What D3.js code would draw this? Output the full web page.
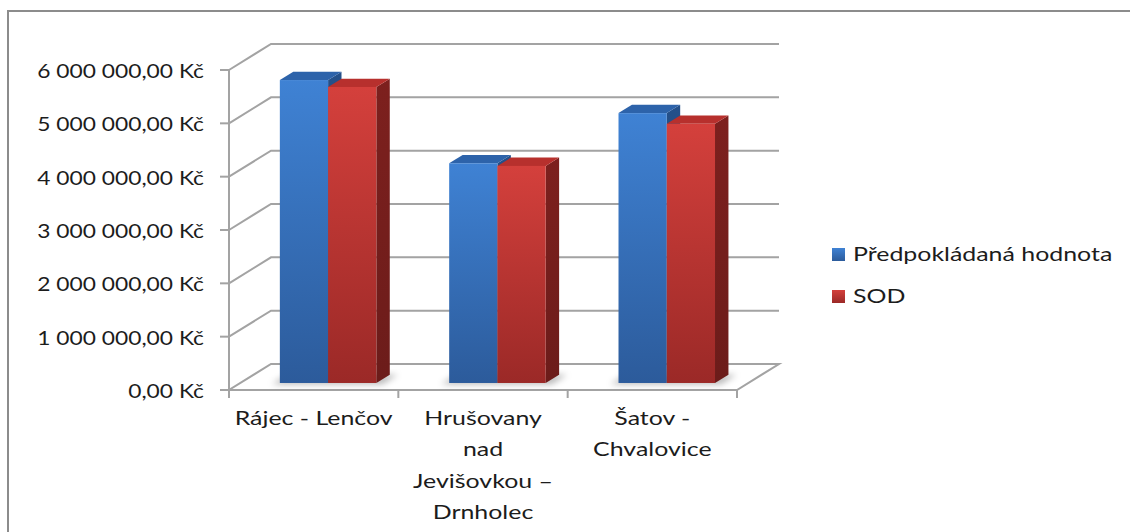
<!DOCTYPE html>
<html>
<head>
<meta charset="utf-8">
<script src="https://cdn.jsdelivr.net/npm/d3@7"></script>
<style>
  body { margin: 0; background: #fff; }
  svg { display: block; }
  text { font-family: Lato, "Liberation Sans", sans-serif; fill: #1c1c1c; }
</style>
</head>
<body>
<svg id="chart" width="1130" height="532"></svg>
<script>
// data
var categories = [["Rájec - Lenčov"], ["Hrušovany", "nad", "Jevišovkou –", "Drnholec"], ["Šatov -", "Chvalovice"]];
var seriesNames = ["Předpokládaná hodnota", "SOD"];
var predpokladana = [5680000, 4120000, 5060000];
var sod = [5550000, 4070000, 4860000];
var yTicks = [0, 1000000, 2000000, 3000000, 4000000, 5000000, 6000000];

var values = [predpokladana, sod];

// layout
var x0 = 229, x1 = 737, yBottom = 390, yTop = 70;
var DX = 42, DY = -26;        // wall depth projection
var t0 = 0.27, t1 = 0.59;     // bar depth in the box
var SX = 1.14;                // horizontal stretch, numbers
var SXT = 1.245;              // horizontal stretch, words
var fontSize = 20;

var czk = d3.formatLocale({ decimal: ",", thousands: " ", grouping: [3], currency: ["", " Kč"] });
var fmt = czk.format("$,.2f");

var svg = d3.select("#chart");
var defs = svg.append("defs");

var y = d3.scaleLinear().domain([0, 6000000]).range([yBottom, yTop]);
var x = d3.scaleBand().domain(d3.range(categories.length)).range([x0, x1]);
var xs = d3.scaleBand().domain(seriesNames).range([39.5, 136]);

function P(px, v, t) { return [px + DX * t, y(v) + DY * t]; }
function pts(arr) { return arr.map(function (p) { return p.join(","); }).join(" "); }

// colours
var pal = [
  { top: "#2d63aa", side: "#24508a", f1: "#3f82d4", f2: "#2c5b9b" },
  { top: "#b7302d", side: "#7d201e", f1: "#d4403c", f2: "#9b2927" }
];
pal.forEach(function (c, i) {
  var g = defs.append("linearGradient").attr("id", "front" + i)
    .attr("x1", 0).attr("y1", 0).attr("x2", 0).attr("y2", 1);
  g.append("stop").attr("offset", "0%").attr("stop-color", c.f1);
  g.append("stop").attr("offset", "100%").attr("stop-color", c.f2);
  var s = defs.append("linearGradient").attr("id", "side" + i)
    .attr("x1", 0).attr("y1", 0).attr("x2", 0).attr("y2", 1);
  s.append("stop").attr("offset", "0%").attr("stop-color", c.side);
  s.append("stop").attr("offset", "100%").attr("stop-color", d3.color(c.side).darker(0.4));
});
defs.append("filter").attr("id", "blur").attr("x", "-20%").attr("y", "-50%").attr("width", "140%").attr("height", "200%")
  .append("feGaussianBlur").attr("stdDeviation", 3);

// outer frame
svg.append("rect").attr("x", 8).attr("y", 11).attr("width", 1300).attr("height", 700)
  .attr("fill", "none").attr("stroke", "#8c8c8c").attr("stroke-width", 2);

var grid = svg.append("g").attr("stroke", "#a3a3a3").attr("stroke-width", 2).attr("fill", "none");

// side wall + back wall gridlines
yTicks.forEach(function (v) {
  if (v > 0) {
    grid.append("polyline").attr("points", pts([P(x0, v, 0), P(x0, v, 1), P(x1, v, 1)]));
  }
});
// floor
grid.append("polygon").attr("points", pts([P(x0, 0, 0), P(x1, 0, 0), P(x1, 0, 1), P(x0, 0, 1)]));

// value axis
grid.append("line").attr("x1", x0).attr("x2", x0).attr("y1", y(6000000)).attr("y2", yBottom + 8);
yTicks.forEach(function (v) {
  grid.append("line").attr("x1", x0 - 9).attr("x2", x0).attr("y1", y(v)).attr("y2", y(v));
});
// category ticks
x.domain().concat([categories.length]).forEach(function (i) {
  var px = i < categories.length ? x(i) : x1;
  grid.append("line").attr("x1", px).attr("x2", px).attr("y1", yBottom).attr("y2", yBottom + 8);
});

// y labels
svg.append("g").selectAll("g").data(yTicks).join("g")
  .attr("transform", function (v) { return "translate(204," + (y(v) + 3) + ") scale(" + SX + ",1)"; })
  .append("text").attr("text-anchor", "end").attr("dominant-baseline", "middle")
  .attr("font-size", fontSize).text(function (v) { return fmt(v); });

// category labels
var cl = svg.append("g").selectAll("g").data(categories).join("g")
  .attr("transform", function (d, i) { return "translate(" + (x(i) + x.bandwidth() / 2) + ",420) scale(" + SXT + ",1)"; });
cl.selectAll("text").data(function (d) { return d; }).join("text")
  .attr("text-anchor", "middle").attr("dominant-baseline", "middle")
  .attr("font-size", fontSize)
  .attr("y", function (d, k) { return k * 31.3; })
  .text(function (d) { return d; });

// shadows under bars
var shadows = svg.append("g").attr("filter", "url(#blur)");
categories.forEach(function (c, i) {
  var l = x(i) + xs(seriesNames[0]) - 6;
  var r = x(i) + xs(seriesNames[1]) + xs.bandwidth() + 8;
  shadows.append("polygon")
    .attr("points", pts([P(l, 0, t0 - 0.05), P(r, 0, t0 - 0.05), P(r, 0, t1), P(l, 0, t1)]))
    .attr("fill", "#000").attr("opacity", 0.28);
});

// bars, drawn left to right
var bars = svg.append("g");
categories.forEach(function (c, i) {
  seriesNames.forEach(function (s, j) {
    var v = values[j][i];
    var l = x(i) + xs(s), r = l + xs.bandwidth();
    var g = bars.append("g");
    g.append("polygon").attr("points", pts([P(r, v, t0), P(r, 0, t0), P(r, 0, t1), P(r, v, t1)]))
      .attr("fill", "url(#side" + j + ")");
    g.append("polygon").attr("points", pts([P(l, v, t0), P(r, v, t0), P(r, v, t1), P(l, v, t1)]))
      .attr("fill", pal[j].top);
    var a = P(l, v, t0), b = P(r, 0, t0);
    g.append("rect").attr("x", a[0]).attr("y", a[1]).attr("width", b[0] - a[0]).attr("height", b[1] - a[1])
      .attr("fill", "url(#front" + j + ")");
  });
});

// legend
var leg = svg.append("g").selectAll("g").data(seriesNames).join("g")
  .attr("transform", function (d, j) { return "translate(832," + (248 + j * 42) + ")"; });
leg.append("rect").attr("width", 13).attr("height", 13)
  .attr("fill", function (d, j) { return "url(#front" + j + ")"; });
leg.append("g").attr("transform", "translate(21,8) scale(" + SXT + ",1)")
  .append("text").attr("dominant-baseline", "middle").attr("font-size", fontSize)
  .text(function (d) { return d; });
</script>
</body>
</html>
